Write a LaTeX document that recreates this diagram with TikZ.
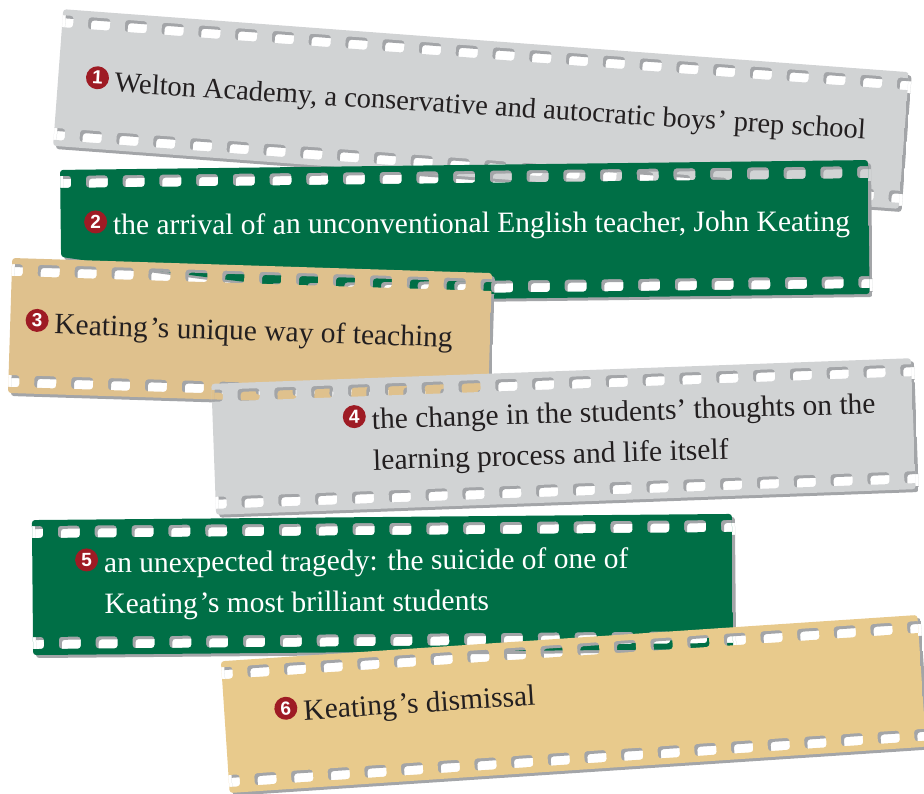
\documentclass[tikz,border=0pt]{standalone}
\usepackage{fontspec}
\setmainfont{Liberation Serif}
\newfontfamily\badgefont{Liberation Sans}
\usepackage{tikz}

\definecolor{filmgrey}{RGB}{209,211,212}
\definecolor{filmgreen}{RGB}{0,111,70}
\definecolor{filmtan}{RGB}{223,193,141}
\definecolor{filmsand}{RGB}{232,202,140}
\definecolor{shadowgrey}{RGB}{163,165,168}
\definecolor{badgered}{RGB}{158,27,36}
\definecolor{inkblack}{RGB}{35,31,32}

% red number disc in front of each line
\newcommand{\badge}[1]{\raisebox{1.5pt}{\tikz\node[badge] (b#1) {#1};}}

% one strip of film: centre, angle, length, height, colour, outline
\newcommand{\filmstrip}[6]{%
  \begin{scope}[shift={#1}, rotate=#2]
    \pgfmathtruncatemacro\nholes{round(#3/36.8)}
    \pgfmathsetmacro\pitch{#3/\nholes}
    \foreach \dx/\layer in {3/shadowgrey, 0/#5} {
      \begin{scope}[shift={(\dx,\dx)}]
        \clip #6;
        \fill[\layer, even odd rule, rounded corners=3pt] #6
          \foreach \k in {0,...,\nholes} {
            (-#3/2+\k*\pitch-11, -#4/2+6) rectangle ++(22,12)
            (-#3/2+\k*\pitch-11, #4/2-18) rectangle ++(22,12)
          };
      \end{scope}
    }
  \end{scope}}

\begin{document}
\begin{tikzpicture}[
    x = 1pt, y = -1pt, % one unit per pixel, y going down
    ink/.style = {text=inkblack, inner sep=0pt, anchor=base west,
      font=\fontsize{29.5}{41}\selectfont},
    inkwhite/.style = {ink, text=white},
    badge/.style = {circle, fill=badgered, text=white, inner sep=0pt,
      minimum size=23pt, font=\badgefont\bfseries\fontsize{19}{19}\selectfont}
    ]
    \useasboundingbox (0,0) rectangle (924,794);

    % the six strips, bottom one first
    \filmstrip{(481,109)}{-4.26}{848}{137}{filmgrey}{(-424,-68.5) rectangle (424,68.5)}
    \filmstrip{(464.8,232)}{0.7}{808}{134}{filmgreen}{(-404,-67) -- (404,-67) -- (404,67) -- (-15,67) .. controls (-150,60) and (-290,38) .. (-404,20) -- cycle}
    \filmstrip{(250,333)}{-1.8}{480}{135}{filmtan}{(-240,-67.5) rectangle (240,67.5)}
    \filmstrip{(563.5,436.5)}{2.1}{700}{131}{filmgrey}{(-350,-65.5) rectangle (350,65.5)}
    \filmstrip{(382.5,584.5)}{0.5}{700}{135}{filmgreen}{(-350,-67.5) rectangle (350,67.5)}
    \filmstrip{(573.5,704)}{3.8}{698}{132}{filmsand}{(-349,-66) rectangle (349,66)}

    % texts
    \node[ink, rotate=-3.6, font=\fontsize{28.5}{41}\selectfont] (t1) at (85,90)
      {\badge{1}\hspace{6pt}Welton Academy, a conservative and autocratic boys\kern1pt’ prep school};
    \node[inkwhite, rotate=0.3] (t2) at (84,235)
      {\badge{2}\hspace{6pt}the arrival of an unconventional English teacher, John Keating};
    \node[ink, rotate=-1.9] (t3) at (25,333)
      {\badge{3}\hspace{6pt}Keating\kern2pt’s unique way of teaching};
    \node[ink, rotate=1.8] (t4) at (343,430)
      {\badge{4}\hspace{6pt}\begin{tabular}[t]{@{}l@{}}the change in the students’ thoughts on the\\
        learning process and life itself\end{tabular}};
    \node[inkwhite, rotate=0.5] (t5) at (75,573)
      {\badge{5}\hspace{6pt}\begin{tabular}[t]{@{}l@{}}an unexpected tragedy: the suicide of one of\\
        Keating\kern2pt’s most brilliant students\end{tabular}};
    \node[ink, rotate=3.7] (t6) at (275,722)
      {\badge{6}\hspace{6pt}Keating\kern2pt’s dismissal};
\end{tikzpicture}
\end{document}
